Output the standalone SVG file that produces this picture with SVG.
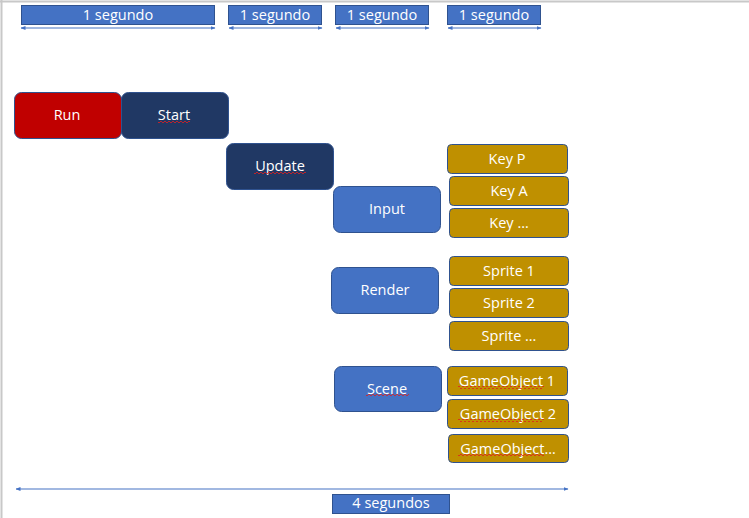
<svg xmlns="http://www.w3.org/2000/svg" width="749" height="518" viewBox="0 0 749 518">
<style>
text{font-family:"Open Sans","Liberation Sans",sans-serif;font-size:14.5px;fill:#fff;text-anchor:middle;dominant-baseline:central}
.lbl{fill:#4472C4;stroke:#2F528F;stroke-width:1}
.blue{fill:#4472C4;stroke:#2F528F;stroke-width:1}
.navy{fill:#203864;stroke:#2F528F;stroke-width:1}
.red{fill:#C00000;stroke:#2F528F;stroke-width:1}
.gold{fill:#BF9000;stroke:#2F528F;stroke-width:1}
.dim{stroke:#4472C4;stroke-width:1.2;fill:none;marker-start:url(#a);marker-end:url(#a)}
</style>
<defs>
<marker id="a" viewBox="0 0 10 10" refX="9" refY="5" markerWidth="5" markerHeight="5" orient="auto-start-reverse" markerUnits="userSpaceOnUse">
<path d="M0,1 L10,5 L0,9 z" fill="#4472C4"/>
</marker>
<pattern id="w" width="4" height="3" patternUnits="userSpaceOnUse"><path d="M0,2 L1,1 L2,2 L3,3 L4,2" stroke="#E02020" stroke-width="0.8" fill="none"/></pattern>
</defs>
<rect width="749" height="518" fill="#fff"/>
<path d="M0,1.5 H749 M1.5,0 V518" stroke="#C8C8C8" stroke-width="2" fill="none"/>

<g id="connectors">
<line class="dim" x1="21" y1="28" x2="215" y2="28"/>
<line class="dim" x1="229" y1="28" x2="322" y2="28"/>
<line class="dim" x1="336" y1="28" x2="429" y2="28"/>
<line class="dim" x1="448" y1="28" x2="541" y2="28"/>
<line class="dim" x1="16" y1="489" x2="568" y2="489"/>
</g>

<g id="t1"><rect class="lbl" x="21.5" y="5.5" width="193" height="19"/><text x="118" y="14">1 segundo</text></g>
<g id="t2"><rect class="lbl" x="228.5" y="5.5" width="93" height="19"/><text x="275" y="14">1 segundo</text></g>
<g id="t3"><rect class="lbl" x="335.5" y="5.5" width="93" height="19"/><text x="382" y="14">1 segundo</text></g>
<g id="t4"><rect class="lbl" x="447.5" y="5.5" width="93" height="19"/><text x="494" y="14">1 segundo</text></g>

<g id="run"><rect class="red" x="14.5" y="92.5" width="107" height="46" rx="7"/><text x="67" y="114">Run</text></g>
<g id="start"><rect class="navy" x="121.5" y="92.5" width="107" height="46" rx="7"/><text x="174" y="114">Start</text><rect x="158" y="120" width="32" height="3" fill="url(#w)"/></g>
<g id="update"><rect class="navy" x="226.5" y="143.5" width="107" height="46" rx="7"/><text x="280" y="165">Update</text><rect x="254" y="171" width="52" height="3" fill="url(#w)"/></g>
<g id="input"><rect class="blue" x="333.5" y="186.5" width="107" height="46" rx="7"/><text x="387" y="208">Input</text></g>
<g id="render"><rect class="blue" x="331.5" y="267.5" width="107" height="46" rx="7"/><text x="385" y="289">Render</text></g>
<g id="scene"><rect class="blue" x="334.5" y="366.5" width="107" height="45" rx="7"/><text x="387" y="388">Scene</text><rect x="366" y="393" width="43" height="3" fill="url(#w)"/></g>

<g id="keyp"><rect class="gold" x="447.5" y="144.5" width="120" height="29" rx="4"/><text x="507" y="158">Key P</text></g>
<g id="keya"><rect class="gold" x="449.5" y="176.5" width="119" height="29" rx="4"/><text x="509" y="190">Key A</text></g>
<g id="keyx"><rect class="gold" x="449.5" y="208.5" width="119" height="29" rx="4"/><text x="509" y="222">Key …</text></g>

<g id="sprite1"><rect class="gold" x="449.5" y="256.5" width="119" height="29" rx="4"/><text x="509" y="270">Sprite 1</text></g>
<g id="sprite2"><rect class="gold" x="449.5" y="288.5" width="119" height="29" rx="4"/><text x="509" y="302">Sprite 2</text></g>
<g id="spritex"><rect class="gold" x="449.5" y="321.5" width="119" height="29" rx="4"/><text x="509" y="335">Sprite …</text></g>

<g id="go1"><rect class="gold" x="447.5" y="366.5" width="120" height="29" rx="4"/><text x="507" y="380">GameObject 1</text><rect x="458" y="386" width="86" height="3" fill="url(#w)"/></g>
<g id="go2"><rect class="gold" x="447.5" y="399.5" width="121" height="29" rx="4"/><text x="508" y="413">GameObject 2</text><rect x="458" y="419" width="86" height="3" fill="url(#w)"/></g>
<g id="gox"><rect class="gold" x="448.5" y="434.5" width="120" height="28" rx="4"/><text x="508" y="448">GameObject…</text><rect x="458" y="454" width="86" height="3" fill="url(#w)"/></g>

<g id="t5"><rect class="lbl" x="332.5" y="494.5" width="117" height="19"/><text x="391" y="502">4 segundos</text></g>
</svg>
